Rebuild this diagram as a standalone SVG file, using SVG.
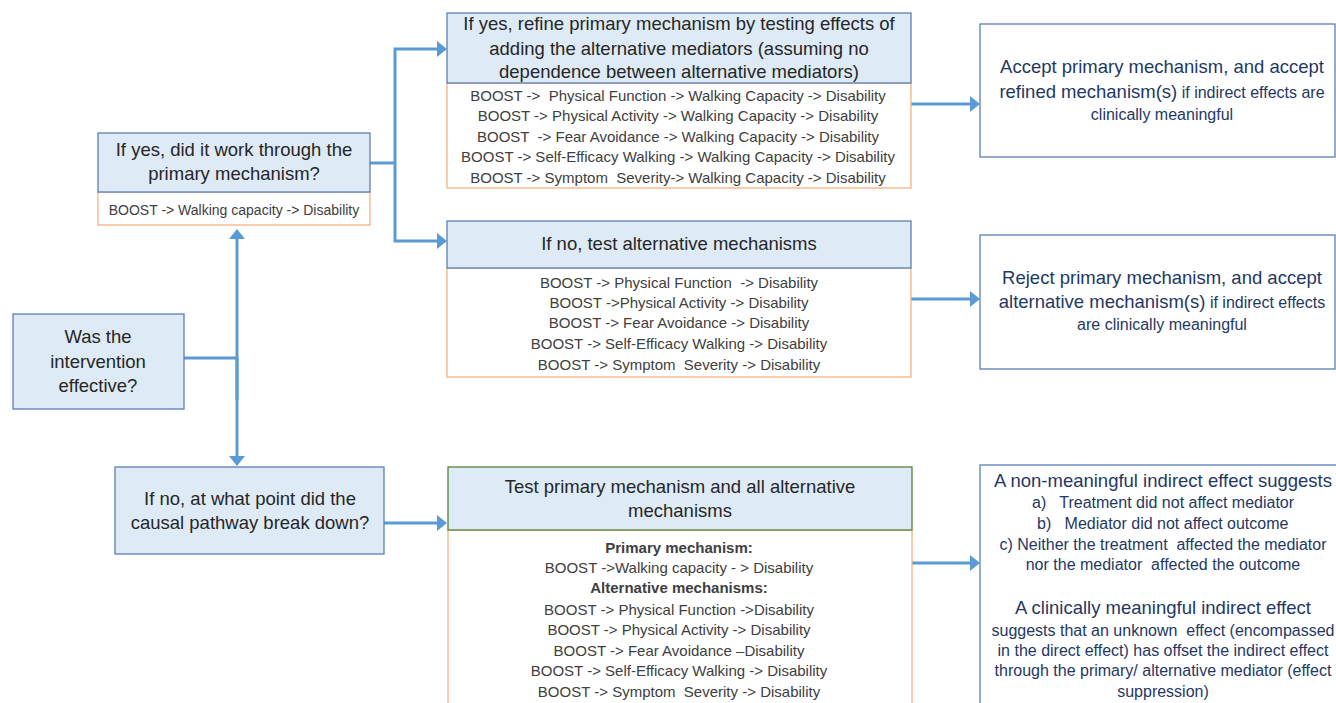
<svg xmlns="http://www.w3.org/2000/svg" width="1336" height="703" viewBox="0 0 1336 703">
<style>
text{font-family:"Liberation Sans",Arial,sans-serif}
.hd{fill:#DEEBF7;stroke:#5A7FB5;stroke-width:1.3}
.hdg{fill:#DEEBF7;stroke:#548235;stroke-width:1.3}
.sb{fill:#FFFFFF;stroke:#F4B183;stroke-width:1.3}
.rb{fill:#FFFFFF;stroke:#5A7FB5;stroke-width:1.3}
.ht{font-size:18.5px;fill:#262626;text-anchor:middle}
.st{font-size:15px;fill:#404040;text-anchor:middle}
.stb{font-size:15px;fill:#404040;text-anchor:middle;font-weight:bold}
.rt{font-size:18.5px;fill:#1F3864;text-anchor:middle}
.rs{font-size:16px;fill:#1F3864}
.cn{fill:none;stroke:#5B9BD5;stroke-width:3}
</style>
<defs>
<marker id="ah" markerUnits="userSpaceOnUse" markerWidth="12" markerHeight="16" refX="2" refY="8" orient="auto">
<path d="M0,0 L10,8 L0,16 Z" fill="#5B9BD5"/>
</marker>
</defs>
<rect width="1336" height="703" fill="#FFFFFF"/>

<g id="connectors">
<path class="cn" d="M184,358 H237"/>
<path class="cn" d="M237,400 V237" marker-end="url(#ah)"/>
<path class="cn" d="M237,358 V458" marker-end="url(#ah)"/>
<path class="cn" d="M370,163 H395"/>
<path class="cn" d="M395,163 V49 H439" marker-end="url(#ah)"/>
<path class="cn" d="M395,163 V241 H439" marker-end="url(#ah)"/>
<path class="cn" d="M911,104 H972" marker-end="url(#ah)"/>
<path class="cn" d="M911,299 H972" marker-end="url(#ah)"/>
<path class="cn" d="M911,563 H972" marker-end="url(#ah)"/>
<path class="cn" d="M384,523 H439" marker-end="url(#ah)"/>
</g>

<g id="n-effective">
<rect class="hd" x="13" y="314" width="171" height="95"/>
<text class="ht" x="98" y="343">Was the</text>
<text class="ht" x="98" y="368">intervention</text>
<text class="ht" x="98" y="392">effective?</text>
</g>

<g id="n-primary">
<rect class="sb" x="98" y="192" width="272" height="33"/>
<rect class="hd" x="98" y="133" width="272" height="59"/>
<text class="ht" x="234" y="156">If yes, did it work through the</text>
<text class="ht" x="234" y="180">primary mechanism?</text>
<text class="st" x="234" y="215" style="font-size:14px">BOOST -&gt; Walking capacity -&gt; Disability</text>
</g>

<g id="n-refine">
<rect class="sb" x="447" y="83" width="464" height="105"/>
<rect class="hd" x="447" y="13" width="464" height="70"/>
<text class="ht" x="679" y="30">If yes, refine primary mechanism by testing effects of</text>
<text class="ht" x="679" y="55">adding the alternative mediators (assuming no</text>
<text class="ht" x="679" y="78">dependence between alternative mediators)</text>
<text class="st" x="678" y="101" xml:space="preserve">BOOST ->  Physical Function -> Walking Capacity -> Disability</text>
<text class="st" x="678" y="121">BOOST -&gt; Physical Activity -&gt; Walking Capacity -&gt; Disability</text>
<text class="st" x="678" y="142" xml:space="preserve">BOOST  -> Fear Avoidance -> Walking Capacity -> Disability</text>
<text class="st" x="678" y="162">BOOST -&gt; Self-Efficacy Walking -&gt; Walking Capacity -&gt; Disability</text>
<text class="st" x="678" y="183" xml:space="preserve">BOOST -> Symptom  Severity-> Walking Capacity -> Disability</text>
</g>

<g id="n-alternative">
<rect class="sb" x="447" y="268" width="464" height="109"/>
<rect class="hd" x="447" y="221" width="464" height="47"/>
<text class="ht" x="679" y="250">If no, test alternative mechanisms</text>
<text class="st" x="679" y="288" xml:space="preserve">BOOST -> Physical Function  -> Disability</text>
<text class="st" x="679" y="308">BOOST -&gt;Physical Activity -&gt; Disability</text>
<text class="st" x="679" y="328">BOOST -&gt; Fear Avoidance -&gt; Disability</text>
<text class="st" x="679" y="349">BOOST -&gt; Self-Efficacy Walking -&gt; Disability</text>
<text class="st" x="679" y="370" xml:space="preserve">BOOST -> Symptom  Severity -> Disability</text>
</g>

<g id="n-accept">
<rect class="rb" x="980" y="24" width="355" height="133"/>
<text class="rt" x="1162" y="73">Accept primary mechanism, and accept</text>
<text class="rt" x="1162" y="98">refined mechanism(s)<tspan class="rs"> if indirect effects are</tspan></text>
<text class="rt" x="1162" y="120"><tspan class="rs">clinically meaningful</tspan></text>
</g>

<g id="n-reject">
<rect class="rb" x="980" y="235" width="355" height="134"/>
<text class="rt" x="1162" y="284">Reject primary mechanism, and accept</text>
<text class="rt" x="1162" y="308">alternative mechanism(s)<tspan class="rs"> if indirect effects</tspan></text>
<text class="rt" x="1162" y="330"><tspan class="rs">are clinically meaningful</tspan></text>
</g>

<g id="n-breakdown">
<rect class="hd" x="115" y="467" width="269" height="87"/>
<text class="ht" x="250" y="505">If no, at what point did the</text>
<text class="ht" x="250" y="529">causal pathway break down?</text>
</g>

<g id="n-testall">
<rect class="sb" x="448" y="530" width="464" height="185"/>
<rect class="hdg" x="448" y="467" width="464" height="63"/>
<text class="ht" x="680" y="493">Test primary mechanism and all alternative</text>
<text class="ht" x="680" y="517">mechanisms</text>
<text class="stb" x="679" y="553">Primary mechanism:</text>
<text class="st" x="679" y="573">BOOST -&gt;Walking capacity - &gt; Disability</text>
<text class="stb" x="679" y="593">Alternative mechanisms:</text>
<text class="st" x="679" y="615">BOOST -&gt; Physical Function -&gt;Disability</text>
<text class="st" x="679" y="635">BOOST -&gt; Physical Activity -&gt; Disability</text>
<text class="st" x="679" y="656">BOOST -&gt; Fear Avoidance –Disability</text>
<text class="st" x="679" y="676">BOOST -&gt; Self-Efficacy Walking -&gt; Disability</text>
<text class="st" x="679" y="697" xml:space="preserve">BOOST -> Symptom  Severity -> Disability</text>
</g>

<g id="n-interpret">
<rect class="rb" x="980" y="465" width="360" height="250"/>
<text class="rt" x="1163" y="487">A non-meaningful indirect effect suggests</text>
<text class="rs" x="1032" y="508" xml:space="preserve">a)   Treatment did not affect mediator</text>
<text class="rs" x="1037" y="529" xml:space="preserve">b)   Mediator did not affect outcome</text>
<text class="rs" x="1163" y="550" text-anchor="middle" xml:space="preserve">c) Neither the treatment  affected the mediator</text>
<text class="rs" x="1163" y="570" text-anchor="middle" xml:space="preserve">nor the mediator  affected the outcome</text>
<text class="rt" x="1163" y="614">A clinically meaningful indirect effect</text>
<text class="rs" x="1163" y="636" text-anchor="middle" xml:space="preserve">suggests that an unknown  effect (encompassed</text>
<text class="rs" x="1163" y="656" text-anchor="middle">in the direct effect) has offset the indirect effect</text>
<text class="rs" x="1163" y="676" text-anchor="middle">through the primary/ alternative mediator (effect</text>
<text class="rs" x="1163" y="697" text-anchor="middle">suppression)</text>
</g>
</svg>
